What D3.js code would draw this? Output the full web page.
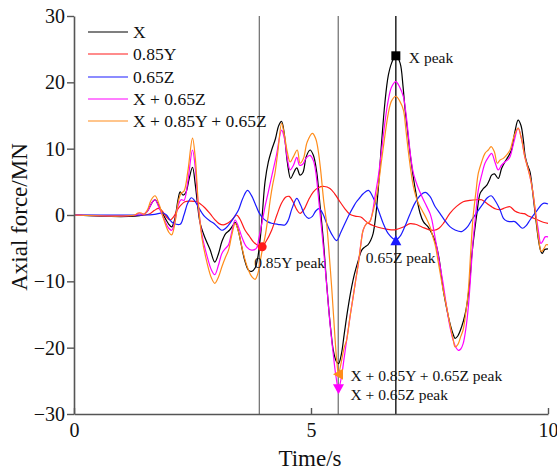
<!DOCTYPE html>
<html><head><meta charset="utf-8">
<script src="https://cdn.jsdelivr.net/npm/d3@7"></script>
<style>
html,body{margin:0;padding:0;background:#fff;}
svg{display:block;font-family:"Liberation Serif","Times New Roman",serif;}
</style></head>
<body><svg id="c" width="557" height="471"></svg>
<script>
const xTicks=[0,5,10];
const yTicks=[-30,-20,-10,0,10,20,30];
const seriesNames=["X","0.85Y","0.65Z","X + 0.65Z","X + 0.85Y + 0.65Z"];
const seriesColors=["#000000","#ff1a1a","#1a1aff","#ff00ff","#ff8c1a"];

const dataX=[[0,0],[1.45,0],[1.55,0.6],[1.65,1.9],[1.71,2.3],[1.8,1.2],[1.9,-0.2],[2.0,-1.4],[2.06,-1.8],[2.12,-0.8],[2.2,2.5],[2.24,3.5],[2.3,3.0],[2.36,3.4],[2.43,5.5],[2.5,7.2],[2.56,4.5],[2.6,2.0],[2.66,-1.2],[2.75,-3.2],[2.87,-5.2],[2.97,-7.1],[3.05,-5.8],[3.12,-4.0],[3.2,-2.8],[3.28,-2.3],[3.35,-1.6],[3.4,-1.1],[3.46,-2.2],[3.53,-4.5],[3.6,-6.8],[3.68,-8.3],[3.75,-8.5],[3.82,-8.0],[3.88,-6.3],[3.93,-3.5],[3.98,0.8],[4.03,5.0],[4.1,8.0],[4.17,9.8],[4.25,11.5],[4.32,13.5],[4.38,14.1],[4.44,12.0],[4.5,8.0],[4.57,5.5],[4.63,6.3],[4.7,7.1],[4.77,6.0],[4.83,6.4],[4.9,8.8],[4.98,9.8],[5.05,9.0],[5.12,6.5],[5.19,1.5],[5.26,-3.8],[5.32,-9.5],[5.37,-13.8],[5.42,-17.5],[5.47,-20.4],[5.53,-22.0],[5.58,-22.4],[5.64,-21.0],[5.7,-18.0],[5.77,-14.5],[5.84,-11.5],[5.92,-8.8],[6.0,-6.8],[6.07,-5.3],[6.14,-4.8],[6.2,-4.5],[6.26,-3.8],[6.31,-2.8],[6.36,-0.5],[6.42,4.0],[6.49,11.0],[6.56,17.0],[6.63,21.0],[6.7,22.9],[6.79,24.1],[6.88,22.9],[6.94,19.5],[6.98,16.3],[7.04,12.5],[7.09,9.3],[7.19,4.3],[7.3,0.3],[7.37,-1.0],[7.47,-1.8],[7.55,-2.8],[7.62,-4.0],[7.7,-6.5],[7.79,-11.3],[7.86,-14.0],[7.93,-16.3],[8.0,-18.0],[8.04,-18.6],[8.1,-18.2],[8.18,-16.8],[8.25,-15.0],[8.3,-13.0],[8.35,-10.0],[8.39,-6.3],[8.45,-2.5],[8.5,0.25],[8.57,3.3],[8.64,4.0],[8.71,4.5],[8.76,5.2],[8.81,6.0],[8.87,6.2],[8.95,5.5],[9.02,7.0],[9.09,8.0],[9.16,8.8],[9.23,9.8],[9.3,12.5],[9.37,14.3],[9.43,13.5],[9.48,11.3],[9.52,8.8],[9.57,7.5],[9.62,6.5],[9.66,4.5],[9.7,2.0],[9.75,-1.0],[9.8,-3.8],[9.85,-5.5],[9.88,-5.8],[9.93,-5.2],[10,-5.1]];

const dataY=[[0,0],[1.5,0],[1.6,0.2],[1.7,0.7],[1.78,1.0],[1.86,0.6],[1.95,-0.3],[2.03,-0.75],[2.1,-0.3],[2.2,1.0],[2.34,2.0],[2.45,2.1],[2.59,2.0],[2.66,1.7],[2.76,1.1],[2.87,0.2],[2.97,-0.7],[3.06,-1.3],[3.15,-1.5],[3.25,-1.2],[3.33,-0.75],[3.43,0.0],[3.5,-0.6],[3.61,-2.3],[3.7,-3.2],[3.78,-4.0],[3.88,-4.6],[3.96,-4.8],[4.05,-4.0],[4.17,-2.3],[4.28,0.0],[4.38,1.8],[4.47,2.7],[4.54,2.8],[4.62,2.0],[4.7,0.8],[4.77,0.25],[4.85,0.8],[4.95,2.3],[5.05,3.5],[5.15,4.1],[5.28,4.3],[5.4,4.0],[5.5,3.2],[5.61,2.0],[5.72,0.9],[5.82,0.1],[5.95,-0.2],[6.05,-0.3],[6.2,-1.2],[6.35,-1.7],[6.5,-2.0],[6.65,-2.2],[6.79,-2.2],[6.95,-1.8],[7.09,-1.3],[7.2,-1.4],[7.34,-1.8],[7.48,-2.2],[7.6,-2.3],[7.7,-2.0],[7.8,-1.2],[7.93,0.25],[8.07,1.3],[8.21,2.0],[8.35,2.2],[8.5,2.3],[8.6,2.3],[8.7,1.8],[8.8,1.3],[8.9,0.9],[8.99,0.8],[9.1,1.1],[9.2,1.25],[9.3,0.6],[9.4,0.3],[9.5,0.2],[9.6,-0.2],[9.7,-0.5],[9.8,-0.8],[9.9,-1.1],[10,-1.25]];

const dataZ=[[0,0],[1.5,0],[1.7,0.1],[1.88,0.3],[1.95,0.0],[2.03,-0.8],[2.1,-1.25],[2.24,-1.4],[2.32,0.0],[2.4,1.8],[2.48,2.6],[2.55,2.1],[2.62,1.25],[2.7,0.3],[2.76,-0.25],[2.87,-0.9],[2.94,-1.2],[3.03,-1.8],[3.12,-2.3],[3.2,-2.0],[3.29,-1.25],[3.38,-0.3],[3.47,0.75],[3.56,2.5],[3.66,3.7],[3.74,3.0],[3.82,1.75],[3.9,0.4],[3.99,-0.5],[4.08,-1.0],[4.17,-1.25],[4.3,-1.4],[4.45,-1.5],[4.52,-0.8],[4.6,1.0],[4.7,2.5],[4.78,1.5],[4.87,0.0],[4.95,-0.5],[5.03,-0.2],[5.1,0.6],[5.17,0.95],[5.25,0.2],[5.33,-1.25],[5.43,-2.8],[5.54,-3.85],[5.63,-2.6],[5.75,-0.75],[5.82,0.25],[5.9,1.3],[5.96,2.0],[6.03,2.6],[6.1,3.2],[6.21,3.7],[6.3,2.8],[6.42,0.75],[6.52,-1.2],[6.63,-2.8],[6.79,-3.75],[6.88,-3.2],[6.98,-1.75],[7.08,0.0],[7.19,1.75],[7.3,2.9],[7.41,3.4],[7.51,2.8],[7.62,1.25],[7.72,0.25],[7.82,-0.8],[7.93,-1.75],[8.05,-2.3],[8.18,-2.5],[8.3,-1.8],[8.39,-0.75],[8.5,0.4],[8.62,1.6],[8.72,2.6],[8.8,2.9],[8.9,2.0],[8.99,0.75],[9.06,-0.5],[9.13,-0.9],[9.2,-1.0],[9.3,-1.0],[9.38,-1.5],[9.46,-2.0],[9.54,-1.6],[9.62,-0.75],[9.75,0.5],[9.9,1.75],[10,1.65]];

const dataXZ=[[0,0],[1.3,0],[1.38,0.3],[1.45,0.1],[1.55,0.6],[1.65,1.9],[1.71,2.3],[1.8,1.0],[1.9,-0.6],[2.0,-2.0],[2.06,-2.3],[2.12,-1.2],[2.2,1.5],[2.26,2.3],[2.32,2.2],[2.4,5.0],[2.5,9.8],[2.56,7.0],[2.62,1.5],[2.7,-3.0],[2.8,-6.0],[2.9,-8.3],[2.97,-9.0],[3.05,-7.5],[3.12,-5.8],[3.2,-5.0],[3.26,-4.5],[3.33,-2.5],[3.4,-0.75],[3.47,-1.8],[3.54,-3.3],[3.64,-4.8],[3.75,-5.3],[3.85,-5.0],[3.9,-3.5],[3.97,-1.0],[4.03,1.25],[4.1,3.5],[4.17,5.8],[4.27,9.0],[4.38,12.8],[4.44,11.5],[4.5,8.5],[4.56,6.8],[4.63,7.5],[4.7,8.7],[4.76,7.5],[4.82,7.6],[4.9,8.6],[4.98,9.0],[5.05,8.2],[5.1,6.5],[5.18,1.0],[5.26,-4.8],[5.33,-10.5],[5.4,-16.3],[5.47,-21.0],[5.53,-24.5],[5.58,-26.2],[5.64,-24.5],[5.7,-21.5],[5.77,-18.0],[5.83,-15.0],[5.89,-12.3],[5.95,-9.5],[6.0,-7.3],[6.05,-4.5],[6.1,-2.3],[6.17,-1.3],[6.24,-1.0],[6.3,0.5],[6.35,2.8],[6.42,5.8],[6.49,9.8],[6.56,14.0],[6.63,17.3],[6.7,19.3],[6.79,20.1],[6.87,19.3],[6.95,17.8],[7.0,15.5],[7.05,12.3],[7.1,9.0],[7.16,6.3],[7.25,4.3],[7.34,2.8],[7.44,1.3],[7.51,0.25],[7.55,-0.75],[7.62,-3.5],[7.69,-6.3],[7.78,-10.0],[7.86,-13.8],[7.93,-16.8],[8.0,-18.9],[8.06,-20.0],[8.11,-20.4],[8.16,-20.2],[8.21,-19.4],[8.27,-17.0],[8.32,-13.8],[8.37,-9.0],[8.42,-3.8],[8.48,0.5],[8.53,3.8],[8.6,6.0],[8.67,7.8],[8.74,8.7],[8.81,9.3],[8.88,8.0],[8.95,6.8],[9.02,7.5],[9.09,8.0],[9.15,8.3],[9.2,8.8],[9.28,11.0],[9.37,13.1],[9.44,11.5],[9.51,8.8],[9.57,7.2],[9.62,5.8],[9.68,3.5],[9.73,0.75],[9.79,-2.0],[9.85,-4.3],[9.9,-3.8],[9.94,-3.3],[10,-3.3]];

const dataXYZ=[[0,0],[1.28,0],[1.35,0.3],[1.42,0.3],[1.48,0.1],[1.55,0.8],[1.63,2.3],[1.71,2.9],[1.8,1.5],[1.9,-0.8],[2.0,-2.6],[2.06,-3.0],[2.12,-1.6],[2.2,2.0],[2.26,3.3],[2.32,3.6],[2.4,6.5],[2.5,11.6],[2.56,8.5],[2.62,2.0],[2.7,-3.5],[2.8,-7.0],[2.9,-9.5],[2.97,-10.3],[3.05,-9.3],[3.12,-7.8],[3.2,-6.3],[3.26,-5.3],[3.33,-3.0],[3.4,-1.25],[3.47,-2.5],[3.54,-4.8],[3.61,-6.8],[3.68,-8.3],[3.75,-9.3],[3.82,-9.7],[3.88,-8.8],[3.92,-7.3],[3.98,-5.0],[4.03,-3.3],[4.09,-0.5],[4.14,2.3],[4.19,4.5],[4.24,6.3],[4.3,9.5],[4.38,13.8],[4.44,12.0],[4.5,9.5],[4.56,8.0],[4.63,8.8],[4.71,9.8],[4.77,7.8],[4.84,8.5],[4.92,11.0],[5.03,12.3],[5.1,11.5],[5.15,9.8],[5.2,7.0],[5.27,2.0],[5.33,-1.25],[5.39,-6.5],[5.44,-11.3],[5.51,-18.9],[5.55,-22.5],[5.58,-24.0],[5.63,-22.5],[5.7,-20.0],[5.75,-18.9],[5.82,-15.5],[5.89,-12.3],[5.95,-9.5],[6.0,-7.3],[6.05,-4.5],[6.1,-2.3],[6.17,-1.3],[6.24,-1.0],[6.3,0.3],[6.35,1.75],[6.42,4.5],[6.49,8.3],[6.56,12.0],[6.63,15.3],[6.7,17.2],[6.79,17.9],[6.87,17.2],[6.95,15.8],[7.0,13.0],[7.05,9.8],[7.1,7.0],[7.16,4.3],[7.25,2.0],[7.34,0.75],[7.44,-0.6],[7.51,-1.75],[7.56,-3.0],[7.62,-4.5],[7.69,-7.3],[7.78,-11.0],[7.86,-13.8],[7.93,-16.5],[8.0,-18.8],[8.04,-19.9],[8.1,-19.5],[8.16,-18.3],[8.21,-17.3],[8.27,-14.5],[8.32,-11.3],[8.37,-5.5],[8.42,-0.25],[8.48,3.5],[8.53,6.3],[8.6,8.0],[8.67,9.3],[8.74,9.8],[8.8,10.3],[8.87,9.5],[8.93,7.8],[8.99,8.3],[9.05,8.5],[9.12,9.0],[9.2,9.8],[9.28,11.8],[9.37,13.1],[9.44,11.5],[9.51,8.8],[9.57,7.2],[9.62,5.8],[9.68,3.5],[9.73,0.75],[9.8,-3.5],[9.86,-5.5],[9.92,-5.0],[9.96,-4.5],[10,-4.5]];

const vLineTimes=[3.91,5.575,6.79];
const vLineColors=["#777777","#777777","#000000"];
// peak markers: [t, value, shape, colorIndex, label]
const peaks=[
  [6.79,24.0,"square",0,"X peak"],
  [3.97,-4.8,"circle",1,"0.85Y peak"],
  [6.79,-3.9,"triUp",2,"0.65Z peak"],
  [5.58,-26.2,"triDown",3,"X + 0.65Z peak"],
  [5.58,-24.0,"triLeft",4,"X + 0.85Y + 0.65Z peak"]
];
const labelOffsets=[[13,7],[-8,21],[-30,22],[12,11],[12,7]];

const allData=[dataX,dataY,dataZ,dataXZ,dataXYZ];
const svg=d3.select("#c");
const x=d3.scaleLinear().domain([0,10]).range([74,548]);
const y=d3.scaleLinear().domain([-30,30]).range([414,16]);
const axisColor="#555555";

// vertical lines
svg.selectAll("line.v").data(vLineTimes).enter().append("line")
  .attr("x1",d=>x(d)).attr("x2",d=>x(d)).attr("y1",y(30)).attr("y2",y(-30))
  .attr("stroke",(d,i)=>vLineColors[i]).attr("stroke-width",1.3);

// series
const line=d3.line().x(d=>x(d[0])).y(d=>y(d[1])).curve(d3.curveCatmullRom.alpha(0.5));
allData.forEach((ds,i)=>{
  svg.append("path").attr("d",line(ds)).attr("fill","none")
    .attr("stroke",seriesColors[i]).attr("stroke-width",1.2);
});

// axes
const gy=svg.append("g").attr("transform",`translate(${x(0)},0)`)
  .call(d3.axisLeft(y).tickValues(yTicks).tickSize(7).tickSizeOuter(0).tickPadding(2));
const gx=svg.append("g").attr("transform",`translate(0,${y(-30)})`)
  .call(d3.axisBottom(x).tickValues(xTicks).tickSize(-6).tickSizeOuter(0).tickPadding(9));
[gx,gy].forEach(g=>{
  g.select(".domain").attr("stroke",axisColor).attr("stroke-width",1.6);
  g.selectAll(".tick line").attr("stroke",axisColor).attr("stroke-width",1.4);
  g.selectAll(".tick text").attr("fill","#111").attr("font-size",20)
   .attr("font-family",'"Liberation Serif","Times New Roman",serif');
});

// axis titles
svg.append("text").attr("x",310).attr("y",466).attr("text-anchor","middle")
  .attr("font-size",23).attr("fill","#111").text("Time/s");
svg.append("text").attr("transform","translate(27,217) rotate(-90)").attr("text-anchor","middle")
  .attr("font-size",23).attr("fill","#111").text("Axial force/MN");

// legend
const legY=[32,54,77,99,121];
seriesNames.forEach((n,i)=>{
  svg.append("line").attr("x1",88).attr("x2",128).attr("y1",legY[i]).attr("y2",legY[i])
    .attr("stroke",seriesColors[i]).attr("stroke-width",1.2);
  svg.append("text").attr("x",133).attr("y",legY[i]+6).attr("font-size",17.5)
    .attr("fill","#111").text(n);
});

// peak markers
const s=4.5;
peaks.forEach((p,i)=>{
  const cx=x(p[0]), cy=y(p[1]), col=seriesColors[p[3]];
  let shape;
  if(p[2]==="square") shape=`M${cx-s},${cy-s}h${2*s}v${2*s}h${-2*s}Z`;
  else if(p[2]==="triUp") shape=`M${cx},${cy-s-1}L${cx+s+1},${cy+s}L${cx-s-1},${cy+s}Z`;
  else if(p[2]==="triDown") shape=`M${cx},${cy+s+1}L${cx+s+1},${cy-s}L${cx-s-1},${cy-s}Z`;
  else if(p[2]==="triLeft") shape=`M${cx-s-1},${cy}L${cx+s},${cy-s-1}L${cx+s},${cy+s+1}Z`;
  if(p[2]==="circle") svg.append("circle").attr("cx",cx).attr("cy",cy).attr("r",s).attr("fill",col);
  else svg.append("path").attr("d",shape).attr("fill",col);
  svg.append("text").attr("x",cx+labelOffsets[i][0]).attr("y",cy+labelOffsets[i][1])
    .attr("font-size",15.5).attr("fill","#111").text(p[4]);
});
</script></body></html>
